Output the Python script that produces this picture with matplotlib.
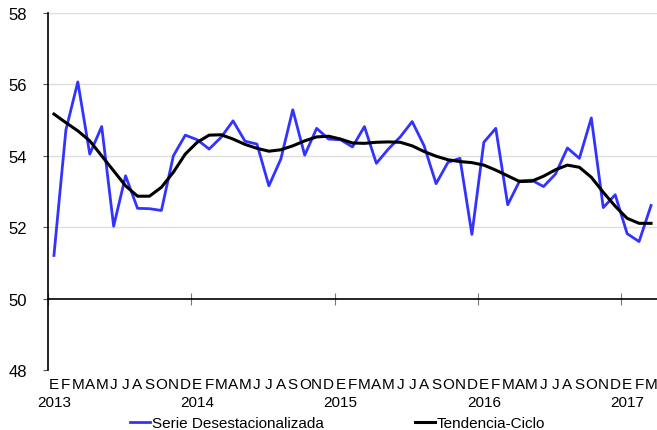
import numpy as np
import matplotlib
matplotlib.use('Agg')
import matplotlib.pyplot as plt
import matplotlib.transforms as mtransforms

plt.rcParams['font.family'] = ['Liberation Sans', 'DejaVu Sans']

# Meses (ene 2013 - mar 2017)
meses = list('EFMAMJJASOND') * 4 + list('EFM')
anios = ['2013', '2014', '2015', '2016', '2017']

serie_desest = [
    51.21, 54.72, 56.07, 54.05, 54.82, 52.03, 53.44, 52.53, 52.52, 52.47, 54.00, 54.58,
    54.45, 54.19, 54.52, 54.98, 54.41, 54.33, 53.16, 53.91, 55.29, 54.02, 54.77, 54.47,
    54.45, 54.25, 54.82, 53.79, 54.19, 54.53, 54.96, 54.28, 53.22, 53.82, 53.93, 51.80,
    54.38, 54.77, 52.63, 53.30, 53.32, 53.14, 53.49, 54.22, 53.93, 55.06, 52.55, 52.91,
    51.82, 51.60, 52.61,
]
tendencia_ciclo = [
    55.17, 54.93, 54.70, 54.42, 54.00, 53.58, 53.16, 52.87, 52.87, 53.12, 53.54, 54.05,
    54.38, 54.58, 54.59, 54.47, 54.32, 54.21, 54.13, 54.17, 54.28, 54.42, 54.53, 54.55,
    54.47, 54.36, 54.35, 54.38, 54.39, 54.38, 54.28, 54.12, 53.99, 53.89, 53.84, 53.81,
    53.74, 53.60, 53.44, 53.28, 53.29, 53.43, 53.61, 53.74, 53.68, 53.40, 52.98, 52.59,
    52.25, 52.11, 52.11,
]

x = np.arange(len(meses))

fig = plt.figure(figsize=(6.57, 4.31), dpi=100)
ax = fig.add_axes([0.073, 0.139, 0.927, 0.8285])

ax.plot(x, serie_desest, color='#3333ff', lw=2, label='Serie Desestacionalizada')
ax.plot(x, tendencia_ciclo, color='black', lw=2.2, label='Tendencia-Ciclo')

ax.set_xlim(-0.5, len(meses) - 0.5)
ax.set_ylim(48, 58)
ax.set_yticks(np.arange(48, 59, 2))
ax.tick_params(axis='y', labelsize=12, length=3.6, color='#555555', pad=11.5)

# lineas de guia
for yv in [52, 54, 56, 58]:
    ax.axhline(yv, color='#dddddd', lw=1, zorder=0)

# eje x cruza en 50
ax.spines['top'].set_visible(False)
ax.spines['right'].set_visible(False)
ax.spines['bottom'].set_position(('data', 50))
ax.spines['bottom'].set_linewidth(1.2)
ax.spines['left'].set_linewidth(1.2)
ax.set_xticks(np.arange(-0.5, len(meses), 12))
ax.tick_params(axis='x', direction='inout', length=9, color='#777777', labelbottom=False)

# etiquetas de meses y años
trans = mtransforms.blended_transform_factory(ax.transData, ax.transAxes)
for i, m in enumerate(meses):
    ax.text(i, -0.0504, m, transform=trans, ha='center', va='baseline', fontsize=11)
for k, a in enumerate(anios):
    ax.text(12 * k, -0.1008, a, transform=trans, ha='center', va='baseline', fontsize=11)

fig.legend(loc='center', bbox_to_anchor=(0.514, 0.016), ncol=2, frameon=False,
           fontsize=11, handlelength=1.3, handletextpad=0.1, columnspacing=6.0,
           borderpad=0.0)

fig.savefig('out.png', dpi=100)
